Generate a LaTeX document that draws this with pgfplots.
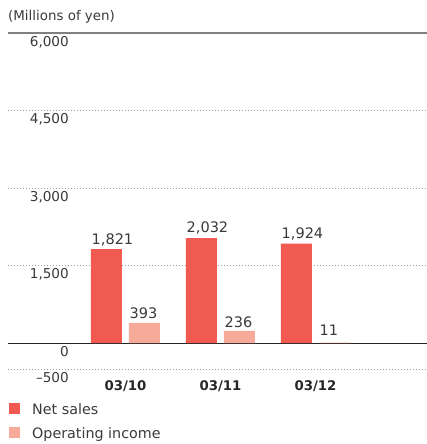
\documentclass[border=0pt]{standalone}
\usepackage{fontspec}
\setmainfont{DejaVu Sans}
\usepackage{pgfplots}
\pgfplotsset{compat=1.18}
\definecolor{netsales}{HTML}{F05A50}
\definecolor{opinc}{HTML}{F8AA9A}
\definecolor{txt}{HTML}{3A3A3A}
\newcommand{\lbl}{\fontsize{13.6}{16}\selectfont}
\newcommand{\vlbl}{\fontsize{14.5}{17}\selectfont}
% x  value  label lift (pt)
\pgfplotstableread{
x y dy
0 1821 5
1 2032 6
2 1924 5.4
}\netsales
\pgfplotstableread{
x y dy
0 393 4.5
1 236 3.3
2 11 7.4
}\opincome
\begin{document}
\begin{tikzpicture}[x=1pt,y=1pt]
\useasboundingbox (0,0) rectangle (427,444);
\node[anchor=base west, inner sep=0pt, font=\fontsize{13.4}{16}\selectfont, text=txt] at (8,423) {(Millions of yen)};
\begin{axis}[
  at={(8pt,75pt)}, anchor=south west,
  scale only axis, width=419pt, height=336pt,
  xmin=-1.2368, xmax=3.1737, ymin=-500, ymax=6000,
  ybar=7pt, bar width=31pt,
  axis line style={draw=none},
  major tick length=0pt,
  xtick={0,1,2}, xticklabels={03/10,03/11,03/12},
  xticklabel style={font=\fontsize{13.3}{16}\selectfont\bfseries, text=black!85, anchor=north, inner sep=0pt, yshift=-11pt},
  ytick={-500,1500,3000,4500,6000},
  yticklabels={–500,{1,500},{3,000},{4,500},{6,000}},
  yticklabel style={font=\lbl, text=txt, anchor=north east, inner sep=0pt, xshift=61pt, yshift=-3pt},
  ymajorgrids,
  major grid style={gray!75, line width=0.8pt, dash pattern=on 0.8pt off 2.2pt},
  extra y ticks={0}, extra y tick labels={0},
  extra y tick style={grid=major, major grid style={black!85, solid, line width=1.2pt}},
  nodes near coords={\pgfmathprintnumber[assume math mode=true,1000 sep={,}]{\pgfplotspointmeta}},
  visualization depends on={\thisrow{dy}\as\dy},
  every node near coord/.append style={anchor=base west, inner sep=0pt, xshift=-15pt, yshift=\dy pt, font=\vlbl, text=txt},
  legend style={at={(rel axis cs:0,0)}, anchor=north west, xshift=0.5pt, yshift=-34pt,
    draw=none, fill=none, font=\fontsize{14.3}{17}\selectfont, text=txt, row sep=11pt, column sep=12.5pt,
    inner sep=0pt, nodes={inner sep=0pt}},
  legend cell align=left,
  legend image code/.code={\fill[#1] (0pt,-4.5pt) rectangle (11pt,6.5pt);},
  clip=false,
]
\addplot[fill=netsales, draw=none] table[x=x,y=y] {\netsales};
\addlegendentry{Net sales}
\addplot[fill=opinc, draw=none] table[x=x,y=y] {\opincome};
\addlegendentry{Operating income}
\draw[gray, line width=1.4pt] (rel axis cs:0,1) -- (rel axis cs:1,1);
\end{axis}
\end{tikzpicture}
\end{document}
